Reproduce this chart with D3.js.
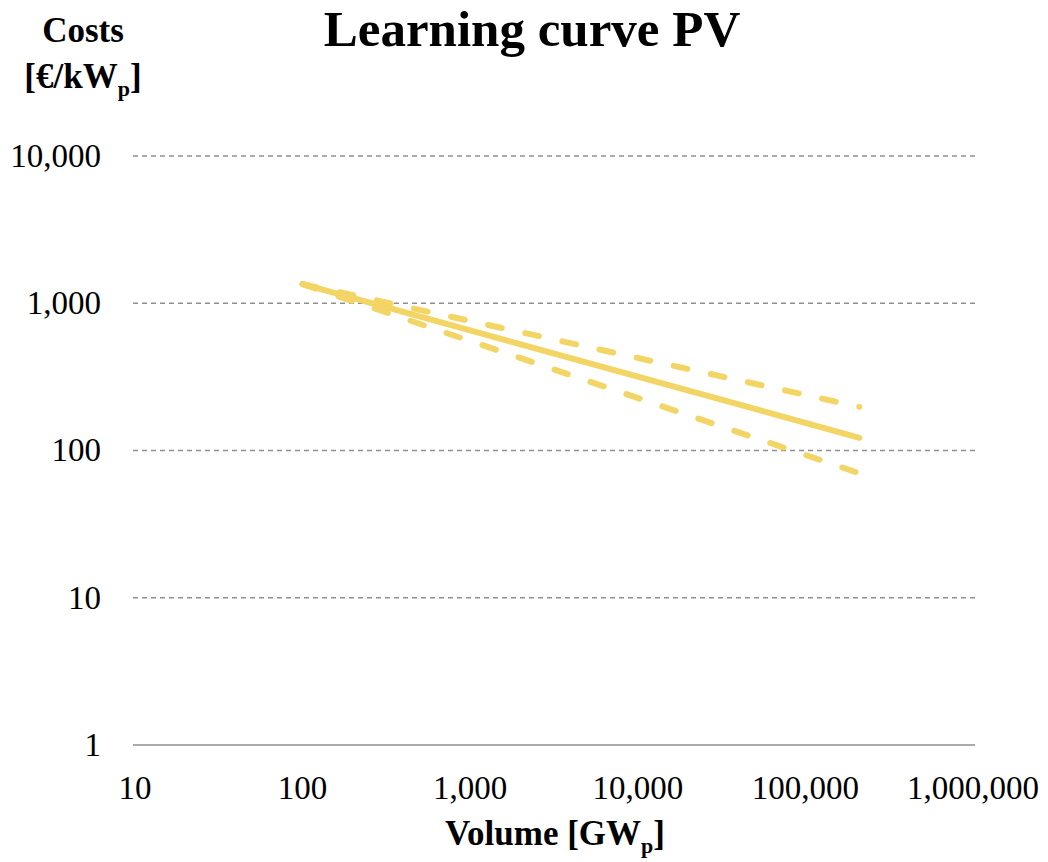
<!DOCTYPE html>
<html>
<head>
<meta charset="utf-8">
<script src="https://cdn.jsdelivr.net/npm/d3@7"></script>
<style>
  body { margin: 0; background: #fff; }
  text { font-family: "Liberation Serif", "DejaVu Serif", serif; fill: #000; }
</style>
</head>
<body>
<div id="chart"></div>
<script>
// x = cumulative volume [GWp], y = costs [€/kWp]
var xTicks = [10, 100, 1000, 10000, 100000, 1000000];
var yTicks = [1, 10, 100, 1000, 10000];
var seriesNames = ['upper', 'central', 'lower'];
var seriesX = [[100, 210000], [100, 210000], [100, 210000]];
var seriesY = [[1350, 198], [1350, 122], [1350, 70]];
var seriesDashed = [true, false, true];

var W = 1048, H = 862;
var svg = d3.select('#chart').append('svg')
    .attr('width', W).attr('height', H);

var x = d3.scaleLog().domain([10, 1000000]).range([135, 973]);
var y = d3.scaleLog().domain([1, 10000]).range([745, 156]);
var fmt = d3.format(',');

// horizontal gridlines
svg.append('g').selectAll('line')
  .data(yTicks.slice(1))
  .enter().append('line')
  .attr('x1', 133).attr('x2', 975)
  .attr('y1', function(d){ return y(d); })
  .attr('y2', function(d){ return y(d); })
  .attr('stroke', '#8f8f8f')
  .attr('stroke-width', 1.5)
  .attr('stroke-dasharray', '5,4');

// x axis baseline
svg.append('line')
  .attr('x1', 133).attr('x2', 975)
  .attr('y1', y(1)).attr('y2', y(1))
  .attr('stroke', '#8f8f8f').attr('stroke-width', 1.5);

// y tick labels
svg.append('g').selectAll('text')
  .data(yTicks)
  .enter().append('text')
  .attr('x', 101)
  .attr('y', function(d){ return y(d); })
  .attr('dy', '0.33em')
  .attr('text-anchor', 'end')
  .style('font-size', '33px')
  .text(function(d){ return fmt(d); });

// x tick labels
svg.append('g').selectAll('text')
  .data(xTicks)
  .enter().append('text')
  .attr('x', function(d){ return x(d); })
  .attr('y', 799)
  .attr('text-anchor', 'middle')
  .style('font-size', '33px')
  .text(function(d){ return fmt(d); });

// series
var line = d3.line()
  .x(function(d){ return x(d[0]); })
  .y(function(d){ return y(d[1]); });

seriesNames.forEach(function(name, i){
  var pts = seriesX[i].map(function(v, j){ return [v, seriesY[i][j]]; });
  svg.append('path')
    .attr('class', 'series-' + name)
    .attr('d', line(pts))
    .attr('fill', 'none')
    .attr('stroke', '#f2d564')
    .attr('stroke-width', 6)
    .attr('stroke-linecap', 'round')
    .attr('stroke-dasharray', seriesDashed[i] ? '14,24' : null);
});

// title
svg.append('text')
  .attr('x', 532).attr('y', 46)
  .attr('text-anchor', 'middle')
  .style('font-size', '51px').style('font-weight', 'bold')
  .text('Learning curve PV');

// y axis title
svg.append('text')
  .attr('x', 83).attr('y', 42)
  .attr('text-anchor', 'middle')
  .style('font-size', '35px').style('font-weight', 'bold')
  .text('Costs');
var yt = svg.append('text')
  .attr('x', 83).attr('y', 88)
  .attr('text-anchor', 'middle')
  .style('font-size', '35px').style('font-weight', 'bold');
yt.append('tspan').text('[€/kW');
yt.append('tspan').attr('dy', 8).style('font-size', '22px').text('p');
yt.append('tspan').attr('dy', -8).text(']');

// x axis title
var xt = svg.append('text')
  .attr('x', 555).attr('y', 845)
  .attr('text-anchor', 'middle')
  .style('font-size', '35px').style('font-weight', 'bold');
xt.append('tspan').text('Volume [GW');
xt.append('tspan').attr('dy', 8).style('font-size', '22px').text('p');
xt.append('tspan').attr('dy', -8).text(']');
</script>
</body>
</html>
